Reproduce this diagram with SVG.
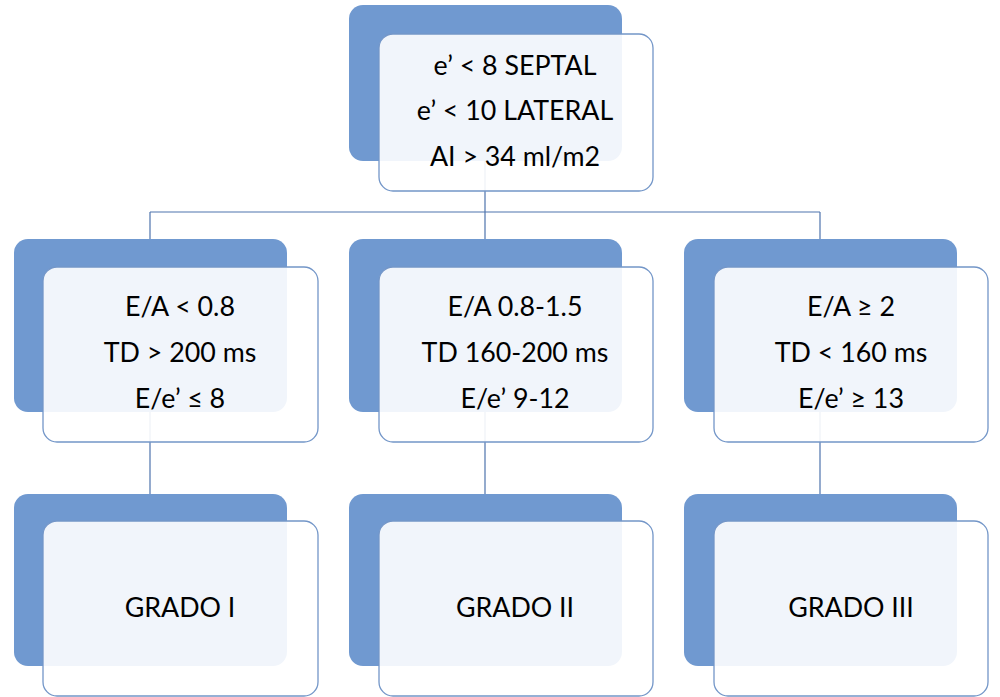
<svg xmlns="http://www.w3.org/2000/svg" width="1000" height="697" viewBox="0 0 1000 697">
<style>
.back{fill:#7099d0;}
.front{fill:#ffffff;fill-opacity:0.9;stroke:#7396c8;stroke-width:1.3;}
.conn{stroke:#4f74ad;stroke-width:1.2;fill:none;}
text{font-family:Lato,"Open Sans","Liberation Sans",sans-serif;font-size:26.8px;fill:#000;text-anchor:middle;}
</style>
<rect width="1000" height="697" fill="#ffffff"/>
<g id="connectors">
<path class="conn" d="M485,150 V212 M150,212 H820 M150,212 V245 M485,212 V245 M820,212 V245"/>
<path class="conn" d="M150,400 V500 M485,400 V500 M820,400 V500"/>
</g>
<g id="node-top">
<rect class="back" x="349" y="5" width="273" height="156" rx="14"/>
<rect class="front" x="379" y="34" width="274" height="157" rx="14"/>
<text x="515" y="75">e’ &lt; 8 SEPTAL</text>
<text x="515" y="120">e’ &lt; 10 LATERAL</text>
<text x="515" y="166">AI &gt; 34 ml/m2</text>
</g>
<g id="node-ea1">
<rect class="back" x="14" y="239" width="273" height="173" rx="14"/>
<rect class="front" x="43" y="267" width="275" height="175" rx="14"/>
<text x="180" y="316">E/A &lt; 0.8</text>
<text x="180" y="362">TD &gt; 200 ms</text>
<text x="180" y="408">E/e’ ≤ 8</text>
</g>
<g id="node-ea2">
<rect class="back" x="349" y="239" width="273" height="173" rx="14"/>
<rect class="front" x="379" y="267" width="274" height="175" rx="14"/>
<text x="515" y="316">E/A 0.8-1.5</text>
<text x="515" y="362">TD 160-200 ms</text>
<text x="515" y="408">E/e’ 9-12</text>
</g>
<g id="node-ea3">
<rect class="back" x="684" y="239" width="273" height="173" rx="14"/>
<rect class="front" x="714" y="267" width="274" height="175" rx="14"/>
<text x="851" y="316">E/A ≥ 2</text>
<text x="851" y="362">TD &lt; 160 ms</text>
<text x="851" y="408">E/e’ ≥ 13</text>
</g>
<g id="node-g1">
<rect class="back" x="14" y="494" width="273" height="172" rx="14"/>
<rect class="front" x="43" y="521" width="275" height="175" rx="14"/>
<text x="180" y="617">GRADO I</text>
</g>
<g id="node-g2">
<rect class="back" x="349" y="494" width="273" height="172" rx="14"/>
<rect class="front" x="379" y="521" width="274" height="175" rx="14"/>
<text x="515" y="617">GRADO II</text>
</g>
<g id="node-g3">
<rect class="back" x="684" y="494" width="273" height="172" rx="14"/>
<rect class="front" x="714" y="521" width="274" height="175" rx="14"/>
<text x="851" y="617">GRADO III</text>
</g>
</svg>
